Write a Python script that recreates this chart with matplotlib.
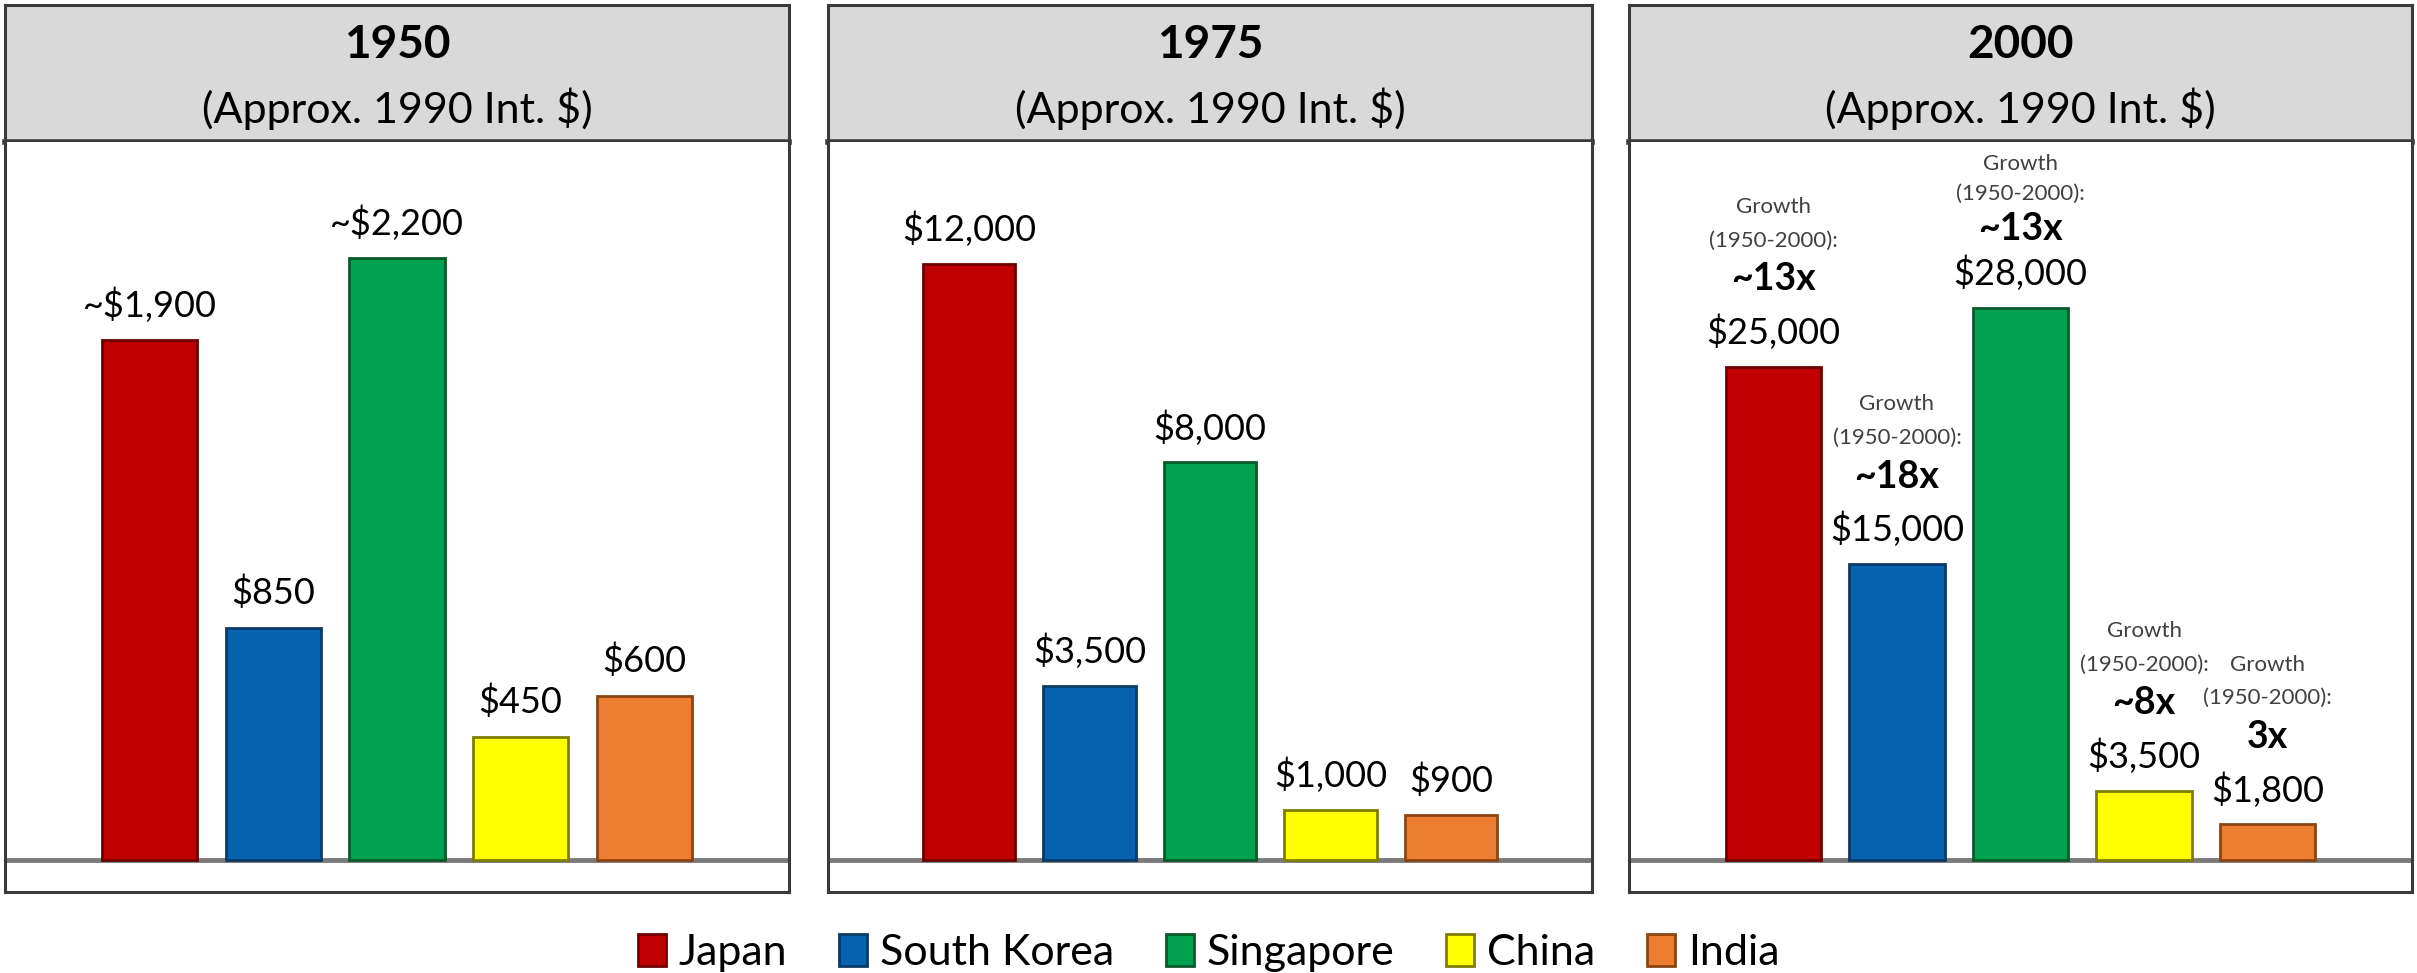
import matplotlib
matplotlib.use("Agg")
import matplotlib.pyplot as plt
from matplotlib.patches import Patch

plt.rcParams["font.family"] = ["Lato", "DejaVu Sans"]

# ----------- DATA ------------
countries = ["Japan", "South Korea", "Singapore", "China", "India"]
years = ["1950", "1975", "2000"]
gdp_1950 = [1900, 850, 2200, 450, 600]
gdp_1975 = [12000, 3500, 8000, 1000, 900]
gdp_2000 = [25000, 15000, 28000, 3500, 1800]
approx_1950 = [True, False, True, False, False]
approx_1975 = [False, False, False, False, False]
approx_2000 = [False, False, False, False, False]
growth_2000 = ["~13x", "~18x", "~13x", "~8x", "3x"]
subtitle = "(Approx. 1990 Int. $)"

# ----------- STYLE ------------
colors = ["#c00000", "#0563b0", "#00a24f", "#ffff00", "#ed7d31"]
edges = ["#6e0000", "#0b3a66", "#0a5a2c", "#7d7d00", "#8a4512"]
W, H = 2417, 973
panel_x = [(5, 789), (828, 1592), (1629, 2412)]
head_top, head_bot, plot_bot = 5, 142, 892
y_tops = [2625, 14450, 36400]
base_frac = 32 / 750  # baseline sits this far above the panel floor
# squeeze the growth stack a bit where it runs into the header
stack_scale = [1.0, 1.0, 0.9, 1.0, 1.0]

fig = plt.figure(figsize=(W / 100, H / 100), dpi=100)
fig.patch.set_facecolor("white")


def fx(px):
    return px / W


def fy(py):
    return 1 - py / H


def money(v, approx):
    return ("~" if approx else "") + f"${v:,}"


panels = [(gdp_1950, approx_1950), (gdp_1975, approx_1975), (gdp_2000, approx_2000)]

for i, ((vals, approx), (x0, x1)) in enumerate(zip(panels, panel_x)):
    # header band
    hax = fig.add_axes([fx(x0), fy(head_bot), fx(x1 - x0), (head_bot - head_top) / H])
    hax.set_facecolor("#d9d9d9")
    hax.set_xticks([])
    hax.set_yticks([])
    for s in hax.spines.values():
        s.set_color("#3a3a3a")
        s.set_linewidth(2.2)
    hax.spines["bottom"].set_linewidth(4)
    hax.text(0.5, 0.71, years[i], ha="center", va="center", fontsize=33,
             fontweight="bold", transform=hax.transAxes)
    hax.text(0.5, 0.24, subtitle, ha="center", va="center", fontsize=31,
             transform=hax.transAxes)

    # bar area
    ax = fig.add_axes([fx(x0), fy(plot_bot), fx(x1 - x0), (plot_bot - head_bot) / H])
    top = y_tops[i]
    bottom = -top * base_frac / (1 - base_frac)
    ax.set_ylim(bottom, top)
    ax.set_xlim(-1.17, 5.17)
    ax.set_xticks([])
    ax.set_yticks([])
    for s in ax.spines.values():
        s.set_color("#3a3a3a")
        s.set_linewidth(2.2)
    ax.spines["top"].set_visible(False)
    ax.axhline(0, color="#7a7a7a", lw=3.5, zorder=1)

    xs = range(len(countries))
    ax.bar(xs, vals, width=0.77, color=colors, edgecolor=edges, linewidth=2, zorder=2)

    for j, v in enumerate(vals):
        ax.annotate(money(v, approx[j]), (j, v), xytext=(0, 25), textcoords="offset points",
                    ha="center", va="center", fontsize=26)
        if i == 2:
            k = stack_scale[j]
            ax.annotate(growth_2000[j], (j, v), xytext=(0, 63 * k), textcoords="offset points",
                        ha="center", va="center", fontsize=27, fontweight="bold")
            ax.annotate("(1950-2000):", (j, v), xytext=(0, 91 * k), textcoords="offset points",
                        ha="center", va="center", fontsize=16, color="#404040")
            ax.annotate("Growth", (j, v), xytext=(0, 115 * k), textcoords="offset points",
                        ha="center", va="center", fontsize=16, color="#404040")

# legend along the bottom
handles = [Patch(facecolor=c, edgecolor=e, linewidth=2) for c, e in zip(colors, edges)]
fig.legend(handles, countries, loc="center", bbox_to_anchor=(0.5, fy(953)), ncol=5,
           frameon=False, fontsize=31, handlelength=0.65, handleheight=0.75,
           handletextpad=0.3, columnspacing=1.2, borderpad=0)

fig.savefig("out.png", dpi=100, facecolor="white")
